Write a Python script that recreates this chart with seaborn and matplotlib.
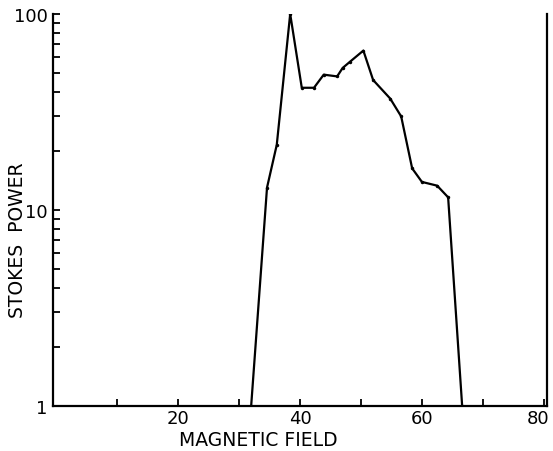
import matplotlib
matplotlib.use("Agg")
import matplotlib.pyplot as plt
import matplotlib.transforms as mtransforms
import seaborn as sns
import pandas as pd
from matplotlib.ticker import FixedLocator, NullFormatter, LogLocator

# Data
field = [32.0, 34.6, 36.2, 38.4, 40.3, 42.3, 43.9, 46.1, 47.0, 48.2, 50.4,
         52.0, 54.8, 56.6, 58.4, 60.0, 62.5, 64.3, 66.6]
power = [1.0, 13.0, 21.5, 100.0, 42.0, 42.0, 49.0, 48.0, 53.0, 57.0, 65.0,
         46.0, 37.0, 30.0, 16.3, 13.9, 13.3, 11.6, 1.0]
x_major = [20, 40, 60, 80]
x_minor = [10, 30, 50, 70]
y_major = [1, 10, 100]

df = pd.DataFrame({"field": field, "power": power})

sns.set_style("white")
plt.rcParams['font.family'] = ['DejaVu Sans']

fig = plt.figure(figsize=(5.53, 4.52), dpi=100)
ax = fig.add_axes([0.0958, 0.0996, 0.8932, 0.8674])

sns.lineplot(data=df, x="field", y="power", ax=ax, color="black",
             linewidth=1.6, marker="o", markersize=2.5, markeredgewidth=0,
             sort=False)

ax.set_yscale("log")
ax.set_xlim(-0.5, 80.5)
ax.set_ylim(1, 100)

ax.xaxis.set_major_locator(FixedLocator(x_major))
ax.xaxis.set_minor_locator(FixedLocator(x_minor))
ax.set_xticklabels([str(v) for v in x_major])
ax.yaxis.set_major_locator(FixedLocator(y_major))
ax.yaxis.set_minor_locator(LogLocator(base=10, subs=range(2, 10)))
ax.yaxis.set_minor_formatter(NullFormatter())
ax.set_yticklabels([str(v) for v in y_major])

ax.tick_params(axis="both", which="both", direction="in", length=5,
               width=1.3, labelsize=13, colors="black",
               bottom=True, left=True, top=False, right=False)
ax.tick_params(axis="x", which="major", pad=2)
ax.tick_params(axis="y", which="major", pad=4)

# keep the last x label inside the canvas
last = ax.get_xticklabels()[-1]
last.set_transform(last.get_transform() +
                   mtransforms.ScaledTranslation(-4 / 72, 0, fig.dpi_scale_trans))

for side in ["left", "bottom", "right"]:
    ax.spines[side].set_visible(True)
    ax.spines[side].set_color("black")
    ax.spines[side].set_linewidth(1.6)
ax.spines["top"].set_visible(False)

ax.set_xlabel("MAGNETIC FIELD", fontsize=13.5, color="black")
ax.xaxis.set_label_coords(0.416, -0.06)
ax.set_ylabel("STOKES  POWER", fontsize=13.5, color="black")
ax.yaxis.set_label_coords(-0.053, 0.426)

fig.savefig("out.png", dpi=100)
